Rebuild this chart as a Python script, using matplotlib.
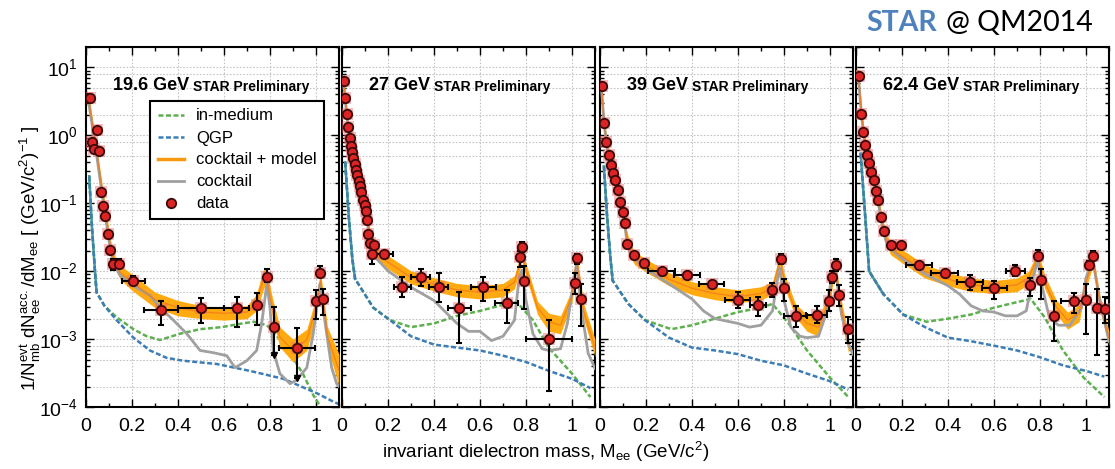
import numpy as np
import matplotlib
matplotlib.use("Agg")
import matplotlib.pyplot as plt
from matplotlib.lines import Line2D
from matplotlib.ticker import FixedLocator, FixedFormatter, LogLocator, NullFormatter

# ---------------- labels ----------------
energies = ["19.6 GeV", "27 GeV", "39 GeV", "62.4 GeV"]
prelim = "STAR Preliminary"
legend_labels = ["in-medium", "QGP", "cocktail + model", "cocktail", "data"]
xtick_vals = [0, 0.2, 0.4, 0.6, 0.8, 1.0]
xtick_labels = ["0", "0.2", "0.4", "0.6", "0.8", "1"]
ytick_vals = [1e-4, 1e-3, 1e-2, 1e-1, 1, 10]
ytick_labels = [r"$10^{-4}$", r"$10^{-3}$", r"$10^{-2}$", r"$10^{-1}$", r"$10^{0}$", r"$10^{1}$"]

# ---------------- 19.6 GeV ----------------
p1_x = [0.006, 0.016, 0.026, 0.035, 0.046, 0.058, 0.067, 0.075, 0.084, 0.097, 0.105, 0.118, 0.142, 0.206,
        0.326, 0.50, 0.655, 0.745, 0.786, 0.817, 0.916, 1.0, 1.017, 1.03]
p1_y = [3.6, 3.6, 0.81, 0.62, 1.19, 0.59, 0.146, 0.090, 0.064, 0.035, 0.0206, 0.0126, 0.0128, 0.0072,
        0.0027, 0.0029, 0.0029, 0.0032, 0.0081, 0.0015, 0.00073, 0.0036, 0.0093, 0.0039]
p1_xe = [0, 0, 0, 0, 0, 0, 0, 0, 0, 0, 0, 0, 0, 0.05, 0.076, 0.10, 0.055, 0.01, 0.008, 0.01, 0.078, 0, 0, 0]
p1_ylo = [3.5, 3.5, 0.78, 0.6, 1.15, 0.57, 0.14, 0.086, 0.061, 0.033, 0.019, 0.0105, 0.011, 0.0062,
          0.0016, 0.00175, 0.0015, 0.0016, 0.0069, 0.00058, 0.00027, 0.0020, 0.0082, 0.0023]
p1_yhi = [3.7, 3.7, 0.84, 0.64, 1.23, 0.61, 0.152, 0.094, 0.067, 0.037, 0.022, 0.0150, 0.015, 0.0084,
          0.0037, 0.0040, 0.0041, 0.0048, 0.0107, 0.0030, 0.00145, 0.0053, 0.0118, 0.0055]
p1_arrows = [19, 20]
p1_band_x = [0.004, 0.015, 0.03, 0.045, 0.06, 0.075, 0.09, 0.105, 0.12, 0.15, 0.2, 0.3, 0.4, 0.5, 0.6, 0.7,
             0.74, 0.77, 0.783, 0.81, 0.843, 0.9, 0.96, 1.0, 1.02, 1.05, 1.1]
p1_band_c = [4.0, 2.8, 1.3, 0.62, 0.27, 0.12, 0.055, 0.025, 0.0145, 0.0095, 0.0069, 0.0038, 0.0029, 0.0025,
             0.0024, 0.0025, 0.0034, 0.0073, 0.0088, 0.0029, 0.00107, 0.00068, 0.00098, 0.0029, 0.0075,
             0.00107, 0.00035]
p1_band_lo = [3.3, 2.3, 1.05, 0.5, 0.22, 0.097, 0.045, 0.02, 0.0118, 0.0075, 0.0052, 0.0029, 0.0022, 0.0020,
              0.0019, 0.0020, 0.0026, 0.0052, 0.0069, 0.0021, 0.00076, 0.00046, 0.00068, 0.0021, 0.0058,
              0.00076, 0.0002]
p1_band_hi = [4.9, 3.4, 1.6, 0.77, 0.33, 0.15, 0.068, 0.031, 0.018, 0.012, 0.0091, 0.0049, 0.0037, 0.0031,
              0.0029, 0.0031, 0.0045, 0.0103, 0.0113, 0.0041, 0.0015, 0.0010, 0.0014, 0.0041, 0.0097,
              0.0015, 0.0006]
p1_gray_x = [0.004, 0.015, 0.03, 0.045, 0.06, 0.075, 0.09, 0.105, 0.12, 0.15, 0.206, 0.278, 0.322, 0.38,
             0.438, 0.496, 0.554, 0.612, 0.648, 0.699, 0.742, 0.764, 0.786, 0.80, 0.814, 0.843, 0.887,
             0.916, 0.96, 0.988, 1.017, 1.04, 1.068, 1.09, 1.1]
p1_gray_y = [3.6, 2.6, 1.2, 0.55, 0.24, 0.105, 0.048, 0.022, 0.0128, 0.0085, 0.0061, 0.0044, 0.0029, 0.0019,
             0.0012, 0.00068, 0.00063, 0.00057, 0.00038, 0.00048, 0.00068, 0.0017, 0.0065, 0.0029, 0.00068,
             0.00031, 0.00022, 0.00025, 0.00038, 0.0012, 0.0065, 0.0017, 0.00038, 0.00022, 0.0002]
p1_green_x = [0.014, 0.026, 0.040, 0.046, 0.08, 0.133, 0.206, 0.264, 0.322, 0.409, 0.496, 0.59, 0.68, 0.73,
              0.786, 0.814, 0.858, 0.9, 0.945, 0.988, 1.02, 1.06]
p1_green_y = [0.25, 0.044, 0.009, 0.0049, 0.0031, 0.0021, 0.0014, 0.0011, 0.00097, 0.0012, 0.0014, 0.0015,
              0.0017, 0.0018, 0.0016, 0.0013, 0.00085, 0.00053, 0.00030, 0.00015, 0.0001, 0.00006]
p1_blue_x = [0.014, 0.026, 0.040, 0.046, 0.08, 0.133, 0.206, 0.278, 0.35, 0.423, 0.568, 0.713, 0.858, 1.003,
             1.075, 1.1]
p1_blue_y = [0.25, 0.044, 0.009, 0.0049, 0.0031, 0.0019, 0.00105, 0.00068, 0.00053, 0.00048, 0.00043,
             0.00034, 0.00026, 0.00016, 0.00012, 0.00011]

# ---------------- 27 GeV ----------------
p2_x = [0.009, 0.014, 0.020, 0.027, 0.033, 0.039, 0.043, 0.049, 0.055, 0.061, 0.067, 0.073, 0.078, 0.084,
        0.091, 0.099, 0.106, 0.110, 0.114, 0.122, 0.132, 0.140, 0.184, 0.262, 0.342, 0.42, 0.51, 0.614,
        0.716, 0.774, 0.783, 0.793, 0.901, 1.012, 1.023, 1.038]
p2_y = [6.3, 3.55, 2.04, 1.33, 0.91, 0.69, 0.57, 0.47, 0.38, 0.31, 0.26, 0.21, 0.18, 0.146, 0.112, 0.093,
        0.078, 0.056, 0.035, 0.026, 0.018, 0.024, 0.018, 0.0058, 0.0081, 0.0058, 0.0029, 0.0058, 0.0034,
        0.016, 0.0224, 0.0072, 0.0010, 0.0066, 0.0157, 0.0039]
p2_xe = [0, 0, 0, 0, 0, 0, 0, 0, 0, 0, 0, 0, 0, 0, 0, 0, 0, 0, 0, 0, 0, 0,
         0.036, 0.036, 0.04, 0.04, 0.05, 0.055, 0.05, 0, 0, 0, 0.1, 0, 0, 0]
p2_ylo = [6.1, 3.45, 1.98, 1.29, 0.88, 0.67, 0.55, 0.455, 0.37, 0.30, 0.25, 0.203, 0.174, 0.141, 0.108, 0.09,
          0.075, 0.054, 0.033, 0.024, 0.0128, 0.022, 0.016, 0.0041, 0.0061, 0.0035, 0.00087, 0.0036, 0.0017,
          0.0114, 0.019, 0.0028, 0.00017, 0.0046, 0.0128, 0.00155]
p2_yhi = [6.5, 3.65, 2.1, 1.37, 0.94, 0.71, 0.59, 0.485, 0.39, 0.32, 0.27, 0.217, 0.186, 0.151, 0.116, 0.096,
          0.081, 0.058, 0.037, 0.028, 0.022, 0.026, 0.020, 0.0082, 0.0106, 0.0093, 0.0049, 0.0082, 0.0052,
          0.020, 0.0267, 0.0121, 0.0019, 0.0093, 0.018, 0.0065]
p2_arrows = []
p2_band_x = [0.005, 0.015, 0.03, 0.045, 0.06, 0.075, 0.09, 0.105, 0.12, 0.135, 0.15, 0.2, 0.3, 0.4, 0.5, 0.6,
             0.7, 0.75, 0.77, 0.782, 0.80, 0.85, 0.9, 0.95, 1.0, 1.02, 1.05, 1.1]
p2_band_c = [7.0, 3.3, 1.1, 0.53, 0.32, 0.20, 0.12, 0.075, 0.037, 0.023, 0.018, 0.0135, 0.0081, 0.0064,
             0.0053, 0.0049, 0.0053, 0.0069, 0.012, 0.0175, 0.0105, 0.0029, 0.0018, 0.0016, 0.0043, 0.0156,
             0.0026, 0.00074]
p2_band_lo = [6.0, 2.8, 0.93, 0.45, 0.27, 0.17, 0.10, 0.064, 0.031, 0.019, 0.015, 0.0108, 0.0065, 0.0051,
              0.0042, 0.0039, 0.0042, 0.0055, 0.0096, 0.014, 0.0084, 0.0023, 0.0013, 0.0012, 0.0034, 0.0125,
              0.0020, 0.00055]
p2_band_hi = [8.2, 3.9, 1.3, 0.62, 0.38, 0.24, 0.14, 0.088, 0.044, 0.028, 0.022, 0.0169, 0.0101, 0.0080,
              0.0066, 0.0061, 0.0066, 0.0086, 0.015, 0.022, 0.0131, 0.0036, 0.0024, 0.0022, 0.0054, 0.0195,
              0.0034, 0.0010]
p2_gray_x = [0.005, 0.015, 0.03, 0.045, 0.06, 0.075, 0.09, 0.105, 0.12, 0.135, 0.15, 0.2, 0.3, 0.4, 0.45,
             0.5, 0.55, 0.6, 0.65, 0.7, 0.75, 0.77, 0.782, 0.8, 0.83, 0.87, 0.9, 0.95, 0.98, 1.0, 1.02, 1.04,
             1.07, 1.1]
p2_gray_y = [6.5, 3.1, 1.0, 0.48, 0.29, 0.18, 0.108, 0.067, 0.032, 0.02, 0.0153, 0.0101, 0.0058, 0.0037,
             0.0025, 0.0017, 0.0013, 0.0013, 0.00095, 0.0011, 0.0019, 0.0080, 0.0103, 0.0037, 0.0012,
             0.00072, 0.00068, 0.00072, 0.0017, 0.0049, 0.0128, 0.0029, 0.00062, 0.00037]
p2_green_x = [0.014, 0.03, 0.045, 0.057, 0.136, 0.209, 0.3, 0.4, 0.5, 0.6, 0.7, 0.76, 0.83, 0.9, 1.0, 1.08]
p2_green_y = [0.40, 0.06, 0.015, 0.0077, 0.0029, 0.0019, 0.0015, 0.0017, 0.0022, 0.0026, 0.0032, 0.0035,
              0.0019, 0.00074, 0.00031, 0.00014]
p2_blue_x = [0.014, 0.03, 0.045, 0.057, 0.136, 0.209, 0.3, 0.4, 0.5, 0.6, 0.7, 0.8, 0.9, 1.0, 1.08]
p2_blue_y = [0.40, 0.06, 0.015, 0.0077, 0.0029, 0.0019, 0.0011, 0.00083, 0.00075, 0.00068, 0.00057,
             0.00046, 0.00034, 0.00026, 0.00019]

# ---------------- 39 GeV ----------------
p3_x = [0.009, 0.017, 0.026, 0.038, 0.048, 0.057, 0.067, 0.077, 0.088, 0.099, 0.107, 0.116, 0.147, 0.192,
        0.268, 0.378, 0.486, 0.599, 0.686, 0.749, 0.786, 0.801, 0.852, 0.942, 0.996, 1.007, 1.025, 1.04, 1.08]
p3_y = [5.3, 1.52, 0.81, 0.52, 0.37, 0.28, 0.22, 0.158, 0.106, 0.074, 0.051, 0.025, 0.0172, 0.0131, 0.0099,
        0.0089, 0.0065, 0.0038, 0.0032, 0.0053, 0.015, 0.0056, 0.0022, 0.0023, 0.0037, 0.0081, 0.0125,
        0.0044, 0.0014]
p3_xe = [0, 0, 0, 0, 0, 0, 0, 0, 0, 0, 0, 0, 0, 0,
         0.058, 0.055, 0.055, 0.055, 0.035, 0, 0, 0, 0.05, 0.047, 0, 0, 0, 0, 0]
p3_ylo = [5.15, 1.47, 0.78, 0.5, 0.355, 0.27, 0.21, 0.152, 0.102, 0.071, 0.049, 0.023, 0.0162, 0.0123, 0.009,
          0.0081, 0.0059, 0.0029, 0.0022, 0.0041, 0.0128, 0.0037, 0.0015, 0.0017, 0.0026, 0.0066, 0.0101,
          0.0031, 0.00087]
p3_yhi = [5.45, 1.57, 0.84, 0.54, 0.385, 0.29, 0.23, 0.164, 0.11, 0.077, 0.053, 0.027, 0.0182, 0.0139,
          0.0109, 0.0098, 0.0072, 0.0049, 0.0042, 0.0066, 0.018, 0.0077, 0.0031, 0.0031, 0.0052, 0.0101,
          0.015, 0.0062, 0.0021]
p3_arrows = []
p3_band_x = [0.005, 0.017, 0.03, 0.045, 0.06, 0.075, 0.09, 0.105, 0.115, 0.13, 0.15, 0.2, 0.3, 0.4, 0.5, 0.6,
             0.7, 0.75, 0.77, 0.782, 0.80, 0.85, 0.9, 0.95, 1.0, 1.02, 1.05, 1.08]
p3_band_c = [6.0, 1.7, 0.7, 0.42, 0.28, 0.18, 0.11, 0.06, 0.034, 0.021, 0.0155, 0.0121, 0.0076, 0.0056,
             0.0047, 0.0042, 0.0047, 0.0056, 0.010, 0.0155, 0.0075, 0.0026, 0.0017, 0.0015, 0.0040, 0.0131,
             0.0028, 0.00085]
p3_band_lo = [5.0, 1.4, 0.58, 0.35, 0.23, 0.15, 0.09, 0.05, 0.028, 0.017, 0.0125, 0.0097, 0.0061, 0.0045,
              0.0038, 0.0034, 0.0038, 0.0045, 0.008, 0.0125, 0.006, 0.0021, 0.0013, 0.0011, 0.0032, 0.0105,
              0.0022, 0.00062]
p3_band_hi = [7.2, 2.1, 0.85, 0.52, 0.35, 0.22, 0.135, 0.075, 0.042, 0.026, 0.0195, 0.0151, 0.0095, 0.0070,
              0.0059, 0.0053, 0.0059, 0.0070, 0.0125, 0.0195, 0.0094, 0.0033, 0.0023, 0.0021, 0.0050, 0.0165,
              0.0036, 0.0012]
p3_gray_x = [0.005, 0.017, 0.03, 0.045, 0.06, 0.075, 0.09, 0.105, 0.115, 0.13, 0.15, 0.2, 0.3, 0.4, 0.45, 0.5,
             0.6, 0.65, 0.7, 0.75, 0.77, 0.782, 0.8, 0.83, 0.87, 0.9, 0.95, 0.98, 1.0, 1.02, 1.05, 1.08, 1.1]
p3_gray_y = [5.7, 1.6, 0.66, 0.40, 0.26, 0.17, 0.10, 0.055, 0.031, 0.019, 0.015, 0.0108, 0.0065, 0.0039,
             0.0026, 0.0020, 0.0017, 0.0015, 0.0016, 0.0026, 0.0070, 0.0112, 0.0037, 0.0015, 0.0011, 0.00105,
             0.0011, 0.0022, 0.0058, 0.0128, 0.0023, 0.00085, 0.0006]
p3_green_x = [0.017, 0.03, 0.045, 0.055, 0.123, 0.196, 0.31, 0.4, 0.5, 0.6, 0.7, 0.75, 0.82, 0.9, 1.0, 1.08]
p3_green_y = [0.35, 0.07, 0.016, 0.0073, 0.0033, 0.0019, 0.0014, 0.0016, 0.0020, 0.0025, 0.0029, 0.0033,
              0.0017, 0.00068, 0.00027, 0.00014]
p3_blue_x = [0.017, 0.03, 0.045, 0.055, 0.123, 0.196, 0.3, 0.4, 0.5, 0.6, 0.7, 0.8, 0.9, 1.0, 1.08]
p3_blue_y = [0.35, 0.07, 0.016, 0.0073, 0.0033, 0.0019, 0.00105, 0.00075, 0.00068, 0.00060, 0.00048,
             0.00041, 0.00031, 0.00024, 0.00018]

# ---------------- 62.4 GeV ----------------
p4_x = [0.013, 0.023, 0.032, 0.040, 0.049, 0.058, 0.067, 0.077, 0.086, 0.096, 0.110, 0.120, 0.151, 0.194,
        0.274, 0.386, 0.496, 0.601, 0.693, 0.757, 0.793, 0.806, 0.860, 0.948, 1.0, 1.014, 1.032, 1.047, 1.083]
p4_y = [7.5, 2.09, 1.12, 0.73, 0.52, 0.39, 0.29, 0.22, 0.154, 0.110, 0.062, 0.039, 0.0245, 0.0245, 0.0125,
        0.0094, 0.0069, 0.0056, 0.0102, 0.0063, 0.0170, 0.0075, 0.0022, 0.0036, 0.0038, 0.0125, 0.0170,
        0.0029, 0.0028]
p4_xe = [0, 0, 0, 0, 0, 0, 0, 0, 0, 0, 0, 0, 0, 0,
         0.056, 0.058, 0.058, 0.055, 0.04, 0, 0, 0, 0, 0.055, 0, 0, 0, 0, 0]
p4_ylo = [7.3, 2.03, 1.08, 0.71, 0.5, 0.375, 0.28, 0.21, 0.148, 0.106, 0.059, 0.037, 0.023, 0.023, 0.0115,
          0.0085, 0.0052, 0.0039, 0.0084, 0.0043, 0.0144, 0.0039, 0.00095, 0.0024, 0.00118, 0.0107, 0.015,
          0.00058, 0.0017]
p4_yhi = [7.7, 2.15, 1.16, 0.75, 0.54, 0.405, 0.30, 0.23, 0.16, 0.114, 0.065, 0.041, 0.026, 0.026, 0.0138,
          0.0105, 0.0087, 0.0072, 0.0124, 0.0080, 0.0205, 0.0109, 0.0037, 0.0048, 0.0065, 0.0143, 0.0195,
          0.0055, 0.0041]
p4_arrows = []
p4_band_x = [0.005, 0.013, 0.025, 0.04, 0.055, 0.07, 0.085, 0.1, 0.115, 0.13, 0.15, 0.2, 0.3, 0.4, 0.5, 0.6,
             0.7, 0.75, 0.775, 0.79, 0.82, 0.87, 0.92, 0.97, 1.0, 1.03, 1.06, 1.1]
p4_band_c = [9.0, 6.0, 1.9, 0.75, 0.45, 0.28, 0.17, 0.095, 0.05, 0.03, 0.0216, 0.0166, 0.0099, 0.0076,
             0.0063, 0.0058, 0.0063, 0.0080, 0.012, 0.0165, 0.0070, 0.0030, 0.0019, 0.0024, 0.0070, 0.0150,
             0.0035, 0.00102]
p4_band_lo = [7.5, 5.0, 1.55, 0.62, 0.37, 0.23, 0.14, 0.078, 0.041, 0.025, 0.0175, 0.0133, 0.0079, 0.0061,
              0.0050, 0.0047, 0.0050, 0.0064, 0.0096, 0.0132, 0.0056, 0.0024, 0.0014, 0.0018, 0.0056, 0.012,
              0.0027, 0.0008]
p4_band_hi = [10.8, 7.2, 2.3, 0.92, 0.55, 0.34, 0.21, 0.115, 0.061, 0.037, 0.027, 0.0208, 0.0124, 0.0095,
              0.0079, 0.0073, 0.0079, 0.010, 0.015, 0.0206, 0.0088, 0.0038, 0.0025, 0.0032, 0.0088, 0.0188,
              0.0045, 0.0013]
p4_gray_x = [0.005, 0.013, 0.025, 0.04, 0.055, 0.07, 0.085, 0.1, 0.115, 0.13, 0.15, 0.2, 0.3, 0.4, 0.45, 0.5,
             0.55, 0.6, 0.65, 0.7, 0.74, 0.77, 0.79, 0.81, 0.84, 0.88, 0.93, 0.98, 1.0, 1.03, 1.06, 1.1]
p4_gray_y = [8.5, 5.6, 1.8, 0.7, 0.42, 0.26, 0.16, 0.088, 0.046, 0.028, 0.0213, 0.0153, 0.0091, 0.0061,
             0.0046, 0.0031, 0.0026, 0.0025, 0.0022, 0.0022, 0.0026, 0.0080, 0.0143, 0.0058, 0.0021, 0.0016,
             0.0016, 0.0029, 0.0080, 0.0143, 0.0037, 0.00093]
p4_green_x = [0.02, 0.038, 0.057, 0.119, 0.205, 0.307, 0.4, 0.5, 0.6, 0.7, 0.76, 0.82, 0.9, 0.99, 1.08]
p4_green_y = [0.54, 0.08, 0.010, 0.0046, 0.0023, 0.0018, 0.0020, 0.0023, 0.0029, 0.0035, 0.0039, 0.0021,
              0.00068, 0.00027, 0.00014]
p4_blue_x = [0.02, 0.038, 0.057, 0.119, 0.205, 0.3, 0.4, 0.5, 0.6, 0.7, 0.8, 0.9, 1.0, 1.08]
p4_blue_y = [0.54, 0.08, 0.010, 0.0046, 0.0023, 0.0015, 0.00105, 0.00093, 0.00080, 0.00068, 0.00054,
             0.00041, 0.00034, 0.00028]

panels = [
    dict(x=p1_x, y=p1_y, xe=p1_xe, ylo=p1_ylo, yhi=p1_yhi, arrows=p1_arrows,
         bx=p1_band_x, bc=p1_band_c, blo=p1_band_lo, bhi=p1_band_hi,
         gx=p1_gray_x, gy=p1_gray_y, mx=p1_green_x, my=p1_green_y, qx=p1_blue_x, qy=p1_blue_y),
    dict(x=p2_x, y=p2_y, xe=p2_xe, ylo=p2_ylo, yhi=p2_yhi, arrows=p2_arrows,
         bx=p2_band_x, bc=p2_band_c, blo=p2_band_lo, bhi=p2_band_hi,
         gx=p2_gray_x, gy=p2_gray_y, mx=p2_green_x, my=p2_green_y, qx=p2_blue_x, qy=p2_blue_y),
    dict(x=p3_x, y=p3_y, xe=p3_xe, ylo=p3_ylo, yhi=p3_yhi, arrows=p3_arrows,
         bx=p3_band_x, bc=p3_band_c, blo=p3_band_lo, bhi=p3_band_hi,
         gx=p3_gray_x, gy=p3_gray_y, mx=p3_green_x, my=p3_green_y, qx=p3_blue_x, qy=p3_blue_y),
    dict(x=p4_x, y=p4_y, xe=p4_xe, ylo=p4_ylo, yhi=p4_yhi, arrows=p4_arrows,
         bx=p4_band_x, bc=p4_band_c, blo=p4_band_lo, bhi=p4_band_hi,
         gx=p4_gray_x, gy=p4_gray_y, mx=p4_green_x, my=p4_green_y, qx=p4_blue_x, qy=p4_blue_y),
]

# ---------------- style ----------------
plt.rcParams['font.family'] = ['Liberation Sans', 'DejaVu Sans']
plt.rcParams['mathtext.fontset'] = 'custom'
plt.rcParams['mathtext.rm'] = 'Liberation Sans'
plt.rcParams['mathtext.it'] = 'Liberation Sans:italic'
plt.rcParams['mathtext.bf'] = 'Liberation Sans:bold'

C_GREEN = '#5db04e'
C_BLUE = '#3d7db5'
C_TEAL = '#3f9a9e'
C_BAND = '#ffaa10'
C_BANDLINE = '#f47a1c'
C_GRAY = '#a0a0a0'
C_RED = '#dd2424'
C_EDGE = '#3a0a0a'

W, H = 1115, 469
lefts = [86, 342, 600, 856]
aw = 253
top_px, bot_px = 47, 407

fig = plt.figure(figsize=(W / 100, H / 100), dpi=100)

grid_y = [m * 10.0 ** k for k in range(-4, 2) for m in (1, 2, 5, 8)]

for i, (L, d) in enumerate(zip(lefts, panels)):
    ax = fig.add_axes([L / W, 1 - bot_px / H, aw / W, (bot_px - top_px) / H])
    ax.set_yscale('log')
    ax.set_xlim(0, 1.1)
    ax.set_ylim(1e-4, 20)

    for gy in grid_y:
        ax.axhline(gy, color='#c4c4c4', lw=0.8, ls=(0, (1.5, 1.5)), zorder=0)
    for gx in xtick_vals[1:]:
        ax.axvline(gx, color='#c4c4c4', lw=0.8, ls=(0, (1.5, 1.5)), zorder=0)

    dash = (0, (2.0, 1.0))
    # steep low-mass part where both model curves coincide (drawn as teal)
    ax.plot(d['qx'][:4], d['qy'][:4], color=C_TEAL, lw=1.8, zorder=1.9)
    ax.plot(d['mx'], d['my'], color=C_GREEN, lw=1.8, ls=dash, zorder=2)
    ax.plot(d['qx'], d['qy'], color=C_BLUE, lw=1.8, ls=dash, zorder=2.1)

    ax.fill_between(d['bx'], d['blo'], d['bhi'], color=C_BAND, lw=0, zorder=3)
    ax.plot(d['gx'], d['gy'], color=C_GRAY, lw=2.0, zorder=3.2)
    ax.plot(d['bx'], d['bc'], color=C_BANDLINE, lw=1.0, alpha=0.8, zorder=3.3)

    x = np.array(d['x']); y = np.array(d['y'])
    ylo = np.array(d['ylo']); yhi = np.array(d['yhi'])
    ax.plot(x, y, 's', ms=9, color='#f06a6a', alpha=0.45, mew=0, zorder=3.5)
    ax.errorbar(x, y, xerr=d['xe'], yerr=[y - ylo, yhi - y], fmt='none', ecolor='black',
                elinewidth=1.5, capsize=2.2, capthick=1.5, zorder=4)
    for k in d['arrows']:
        ax.plot(x[k], ylo[k], marker='v', color='black', ms=5, zorder=4)
    ax.plot(x, y, 'o', ms=6.8, mfc=C_RED, mec=C_EDGE, mew=1.3, zorder=5)

    ax.xaxis.set_major_locator(FixedLocator(xtick_vals))
    ax.xaxis.set_major_formatter(FixedFormatter(xtick_labels))
    ax.xaxis.set_minor_locator(FixedLocator([0.1, 0.3, 0.5, 0.7, 0.9, 1.1]))
    ax.yaxis.set_major_locator(FixedLocator(ytick_vals))
    ax.yaxis.set_minor_locator(LogLocator(base=10, subs=np.arange(2, 10)))
    ax.yaxis.set_minor_formatter(NullFormatter())
    if i == 0:
        ax.yaxis.set_major_formatter(FixedFormatter(ytick_labels))
    else:
        ax.yaxis.set_major_formatter(NullFormatter())
    ax.tick_params(which='both', direction='in', top=True, right=True, width=1.0)
    ax.tick_params(which='major', length=6, labelsize=14)
    ax.tick_params(which='minor', length=3)
    ax.tick_params(axis='x', pad=8)
    ax.tick_params(axis='y', pad=6)
    for s in ax.spines.values():
        s.set_linewidth(1.5)

    t1 = ax.text(0.107, 0.88, energies[i], transform=ax.transAxes, fontsize=13, fontweight='bold',
                 ha='left', va='baseline', zorder=6)
    ax.annotate(prelim, xy=(1, 0), xycoords=t1, xytext=(3, 0), textcoords='offset points',
                fontsize=10, fontweight='bold', ha='left', va='bottom', zorder=6)

    if i == 0:
        handles = [Line2D([], [], color=C_GREEN, lw=1.8, ls=dash),
                   Line2D([], [], color=C_BLUE, lw=1.8, ls=dash),
                   Line2D([], [], color='#f79a10', lw=2.5),
                   Line2D([], [], color=C_GRAY, lw=2.0),
                   Line2D([], [], ls='none', marker='o', ms=6.8, mfc=C_RED, mec=C_EDGE, mew=1.3)]
        leg = ax.legend(handles, legend_labels, loc='upper left', bbox_to_anchor=(0.253, 0.85),
                        borderaxespad=0, fontsize=12, fancybox=False, framealpha=1, edgecolor='black',
                        handlelength=1.6, handletextpad=0.7, labelspacing=0.42, borderpad=0.45)
        leg.get_frame().set_linewidth(1.5)
        leg.set_zorder(7)

fig.text(30 / W, 1 - 258 / H,
         r"1/N$_{\mathrm{mb}}^{\mathrm{evt}}$ dN$_{\mathrm{ee}}^{\mathrm{acc.}}$/dM$_{\mathrm{ee}}$ [ (GeV/c$^{2}$)$^{-1}$ ]",
         rotation=90, ha='center', va='center', fontsize=13.5)
fig.text(546 / W, 1 - 452 / H, r"invariant dielectron mass, M$_{\mathrm{ee}}$ (GeV/c$^{2}$)",
         ha='center', va='center', fontsize=13.5)

t_star = fig.text(866 / W, 1 - 31 / H, "STAR", color='#4f81bd', fontsize=20.5, fontweight='bold',
                  family=['Lato', 'DejaVu Sans'], ha='left', va='baseline')
fig.canvas.draw()
bb = t_star.get_window_extent()
fig.text((bb.x1 + 9) / W, 1 - 31 / H, "@ QM2014", fontsize=20.5, family=['Lato', 'DejaVu Sans'],
         color='black', ha='left', va='baseline')

fig.savefig("out.png", dpi=100)
